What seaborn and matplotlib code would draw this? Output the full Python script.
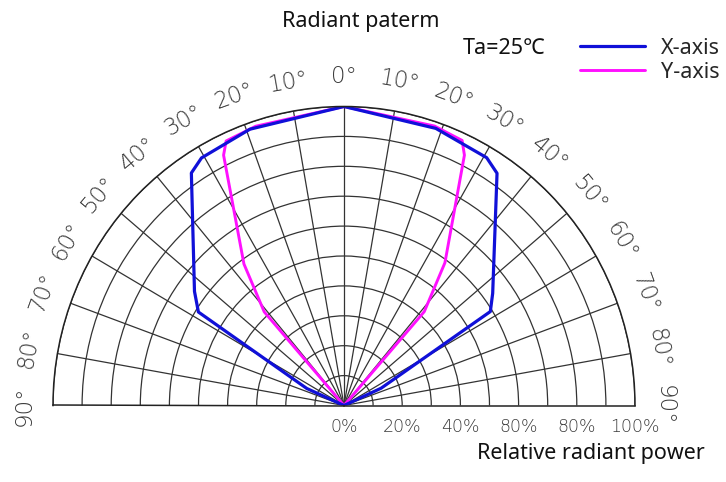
import numpy as np
import pandas as pd
import matplotlib
matplotlib.use("Agg")
import matplotlib.pyplot as plt
import matplotlib.transforms as mtransforms
from matplotlib.lines import Line2D
import seaborn as sns

# ---- data (angle in degrees, relative radiant power in %) ----
x_angle = [-66, -66, -58, -53.4, -34, -30.6, -19.3, 0, 18.8, 30.6, 34.1, 53.7, 58, 65.6, 65.6]
x_power = [0, 14, 59, 64, 93.8, 96.2, 97.9, 100, 97.9, 96.3, 93.8, 63.4, 59.3, 14, 0]
y_angle = [-41.2, -41.2, -36, -26.3, -24.6, -18, 0, 18.4, 24.6, 26.3, 36, 41.3, 41.3]
y_power = [0, 41.6, 58.5, 93.4, 97.3, 98.2, 100, 98.5, 97.5, 93.4, 59, 41.8, 0]
angle_ticks = list(range(-90, 91, 10))
r_ticks = [0, 20, 40, 60, 80, 100]
r_tick_labels = ["0%", "20%", "40%", "80%", "80%", "100%"]
series_names = ["X-axis", "Y-axis"]
series_colors = ["#1010d8", "#ff10ff"]

sns.set_theme(style="white")
plt.rcParams["font.family"] = ["Noto Sans", "DejaVu Sans"]

W, H = 726, 482
fig = plt.figure(figsize=(W / 100, H / 100), dpi=100)

# polar half-disc: centre (344, 405.5) px from top-left, radii 291 (h) / 299 (v)
cx, cy = 344, 405.5
Rh, Rv = 291, 299
box_h = 2 * Rv
left = (cx - Rh) / W
bottom = ((H - cy) - box_h * 0.25) / H
ax = fig.add_axes([left, bottom, 2 * Rh / W, box_h / H], projection="polar")
ax.set_theta_zero_location("N")
ax.set_theta_direction(-1)
ax.set_thetamin(-90)
ax.set_thetamax(90)
ax.set_rlim(0, 100)
ax.set_aspect("auto")

ax.set_thetagrids(list(range(-80, 90, 10)), labels=[])
ax.set_rgrids(list(range(10, 101, 10)), labels=[])
ax.grid(True, color="#333333", lw=0.9)
ax.tick_params(length=0)
for name, sp in ax.spines.items():
    sp.set_color("#222222")
    sp.set_linewidth(1.1)

df_x = pd.DataFrame({"theta": np.deg2rad(x_angle), "r": x_power})
df_y = pd.DataFrame({"theta": np.deg2rad(y_angle), "r": y_power})
sns.lineplot(data=df_y, x="theta", y="r", estimator=None, sort=False,
             color=series_colors[1], lw=2.1, ax=ax)
sns.lineplot(data=df_x, x="theta", y="r", estimator=None, sort=False,
             color=series_colors[0], lw=2.3, ax=ax)
ax.set_xlabel("")
ax.set_ylabel("")

# angle labels
for a in angle_ticks:
    ax.text(np.deg2rad(a), 110, f"{abs(a)}°", rotation=-a, rotation_mode="anchor",
            ha="center", va="center", fontsize=16.5, color="#3a3a3a",
            family="DejaVu Sans", fontweight="light", clip_on=False)

# radial % labels below the baseline
off = mtransforms.offset_copy(ax.transData, fig=fig, x=0, y=-22, units="dots")
for r, lab in zip(r_ticks, r_tick_labels):
    ax.text(np.deg2rad(90), r, lab, transform=off, ha="center", va="center",
            fontsize=12.5, color="#3a3a3a", family="DejaVu Sans",
            fontweight="light", clip_on=False)

fs = 15.5
fig.text(361 / W, 1 - 27 / H, "Radiant paterm", ha="center", va="baseline",
         fontsize=fs, color="#111111")
fig.text(504 / W, 1 - 54 / H, "Ta=25℃", ha="center", va="baseline",
         fontsize=fs, color="#111111")
fig.text(477 / W, 1 - 459 / H, "Relative radiant power", ha="left", va="baseline",
         fontsize=fs, color="#111111")

handles = [Line2D([], [], color=series_colors[0], lw=2.3),
           Line2D([], [], color=series_colors[1], lw=2.1)]
fig.legend(handles, series_names, loc="upper left",
           bbox_to_anchor=(580 / W, 1 - 38 / H), frameon=False,
           fontsize=fs, handlelength=3.0, handletextpad=0.75,
           labelspacing=0.14, borderaxespad=0, borderpad=0)

fig.savefig("out.png", dpi=100)
